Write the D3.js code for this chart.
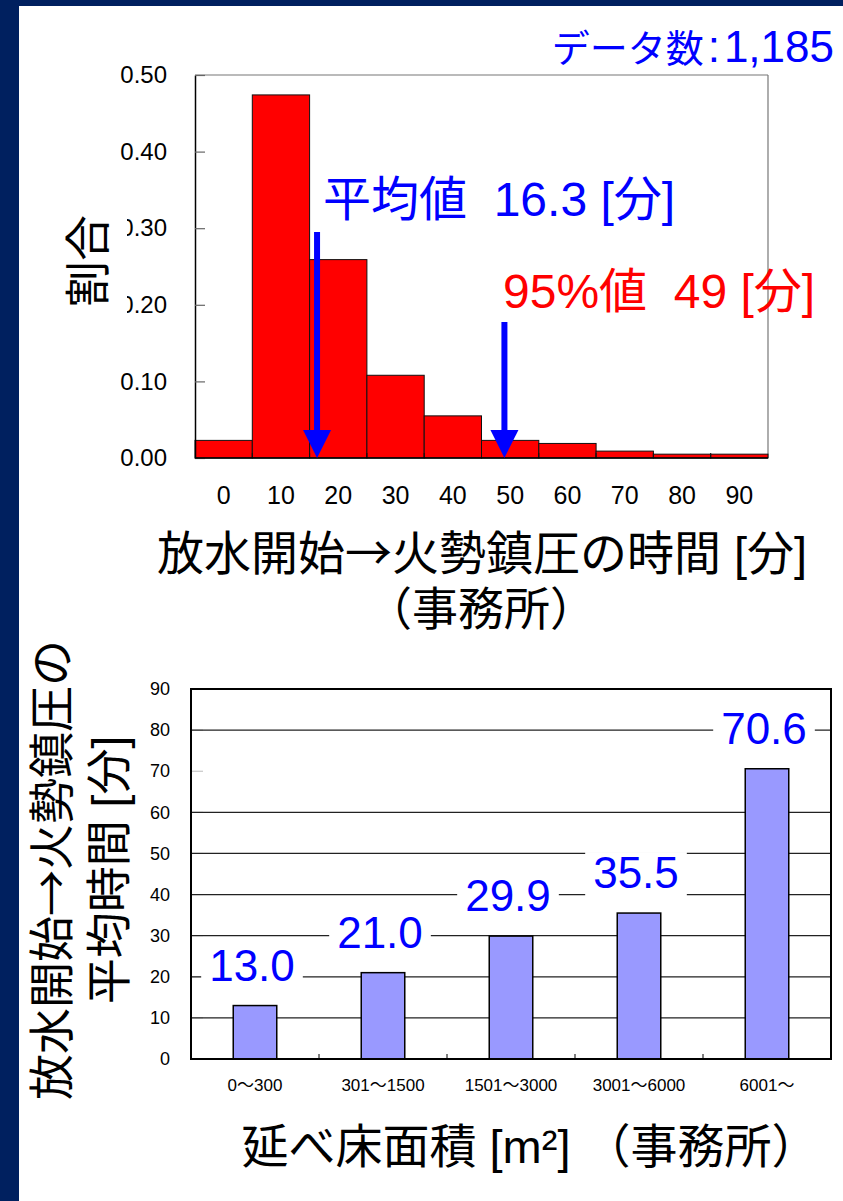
<!DOCTYPE html>
<html>
<head>
<meta charset="utf-8">
<script src="https://cdn.jsdelivr.net/npm/d3@7"></script>
<style>
  html, body { margin: 0; padding: 0; background: #fff; }
  svg { display: block; }
  text { font-family: "Liberation Sans", Arial, "Noto Sans CJK JP", sans-serif; }
</style>
</head>
<body>
<svg id="chart" width="843" height="1201"></svg>
<script>
// ---- Histogram: time from water discharge to fire suppression (offices) ----
const timeBinLabels = ["0", "10", "20", "30", "40", "50", "60", "70", "80", "90"];
const shareValues   = [0.023, 0.474, 0.259, 0.108, 0.055, 0.023, 0.019, 0.009, 0.005, 0.005];
const shareTicks    = [0, 0.1, 0.2, 0.3, 0.4, 0.5];
const meanMinutes   = 16.3;
const p95Minutes    = 49;
const dataCount     = "1,185";

// ---- Mean suppression time by total floor area (offices) ----
const floorAreaCategories = ["0～300", "301～1500", "1501～3000", "3001～6000", "6001～"];
const meanTimes           = [13.0, 21.0, 29.9, 35.5, 70.6];
const meanTimeTicks       = [0, 10, 20, 30, 40, 50, 60, 70, 80, 90];
const meanTimeGrid        = [10, 20, 30, 40, 50, 60, 80];

const svg = d3.select("#chart");
const W = 843, H = 1201;
const CJK = "'Noto Sans CJK JP', sans-serif";
const MIX = "'Liberation Sans', Arial, 'Noto Sans CJK JP', sans-serif";
const NARROW = "'Liberation Sans Narrow', 'Liberation Sans', Arial, sans-serif";

// text with a full-width CJK arrow between two runs
function arrowText(sel, before, after) {
  sel.append("tspan").text(before);
  sel.append("tspan").attr("font-family", CJK).text("→");
  sel.append("tspan").text(after);
  return sel;
}

// slide frame
svg.append("rect").attr("width", W).attr("height", H).attr("fill", "#00205F");
svg.append("rect").attr("x", 19).attr("y", 6).attr("width", W - 19).attr("height", H - 6).attr("fill", "#fff");

// ================= top histogram =================
const ht = { left: 195, right: 768, top: 75, bottom: 458 };
const xBin = d3.scaleBand().domain(timeBinLabels).range([ht.left, ht.right]).padding(0);
const xTime = d3.scaleLinear().domain([-5, 95]).range([ht.left, ht.right]);
const yShare = d3.scaleLinear().domain([0, 0.5]).range([ht.bottom, ht.top]);

const gHist = svg.append("g");

// frame top/right (grey)
gHist.append("line").attr("x1", ht.left).attr("x2", ht.right).attr("y1", ht.top).attr("y2", ht.top)
  .attr("stroke", "#777").attr("stroke-width", 1.2);
gHist.append("line").attr("x1", ht.right).attr("x2", ht.right).attr("y1", ht.top).attr("y2", ht.bottom)
  .attr("stroke", "#777").attr("stroke-width", 1.2);

// bars
gHist.append("g").selectAll("rect").data(shareValues).join("rect")
  .attr("x", (d, i) => xBin(timeBinLabels[i]))
  .attr("y", d => yShare(d))
  .attr("width", xBin.bandwidth())
  .attr("height", d => yShare(0) - yShare(d))
  .attr("fill", "#FF0000")
  .attr("stroke", "#111")
  .attr("stroke-width", 1);

// bin boundary ticks on bottom axis
gHist.append("g").selectAll("line").data(timeBinLabels.slice(1)).join("line")
  .attr("x1", d => xBin(d)).attr("x2", d => xBin(d))
  .attr("y1", ht.bottom).attr("y2", ht.bottom - 5)
  .attr("stroke", "#111").attr("stroke-width", 1);

// left axis
const yAxisTop = gHist.append("g").attr("transform", `translate(${ht.left},0)`)
  .call(d3.axisLeft(yShare).tickValues(shareTicks).tickFormat(d3.format(".2f"))
    .tickSizeInner(-10).tickSizeOuter(0).tickPadding(28));
yAxisTop.select(".domain").attr("stroke", "#000").attr("stroke-width", 1.5);
yAxisTop.selectAll(".tick line").attr("stroke", "#666").attr("stroke-width", 1.2);
yAxisTop.selectAll(".tick text").attr("font-family", MIX).attr("font-size", 24).attr("fill", "#000");

// bottom axis labels (bin centers)
const xAxisTop = gHist.append("g").attr("transform", `translate(0,${ht.bottom})`)
  .call(d3.axisBottom(xBin).tickSize(0).tickPadding(28));
xAxisTop.select(".domain").remove();
xAxisTop.selectAll(".tick text").attr("font-family", NARROW).attr("font-size", 25).attr("fill", "#000");
gHist.append("line").attr("x1", ht.left).attr("x2", ht.right).attr("y1", ht.bottom).attr("y2", ht.bottom)
  .attr("stroke", "#000").attr("stroke-width", 1.5);

// y title with white backing
gHist.append("rect").attr("x", 50).attr("y", 208).attr("width", 77).attr("height", 106).attr("fill", "#fff");
gHist.append("text").attr("transform", "translate(104,261) rotate(-90)")
  .attr("text-anchor", "middle").attr("font-family", CJK).attr("font-size", 46).attr("fill", "#000")
  .text("割合");

// x title
arrowText(gHist.append("text").attr("x", 482).attr("y", 570).attr("text-anchor", "middle")
  .attr("font-family", MIX).attr("font-size", 47).attr("fill", "#000"),
  "放水開始", "火勢鎮圧の時間 [分]");
gHist.append("text").attr("x", 481).attr("y", 625).attr("text-anchor", "middle")
  .attr("font-family", CJK).attr("font-size", 46).attr("fill", "#000")
  .text("（事務所）");

// data count
const countText = gHist.append("text").attr("x", 834).attr("y", 62).attr("text-anchor", "end")
  .attr("font-family", MIX).attr("fill", "#0000FF");
countText.append("tspan").attr("font-size", 38).text("データ数");
countText.append("tspan").attr("font-size", 44).attr("dx", 4).text(":");
countText.append("tspan").attr("font-size", 44).attr("dx", 4).text(dataCount);

// annotations: mean and 95th percentile with arrows
const markers = [
  { value: meanMinutes, label: "平均値  " + meanMinutes.toFixed(1) + " [分]", color: "#0000FF", tx: 323, ty: 216, shaftTop: 232 },
  { value: p95Minutes,  label: "95%値  " + p95Minutes + " [分]",               color: "#FF0000", tx: 503, ty: 308, shaftTop: 322 }
];
markers.forEach(m => {
  gHist.append("text").attr("x", m.tx).attr("y", m.ty)
    .style("white-space", "pre")
    .attr("font-family", MIX).attr("font-size", 48).attr("fill", m.color).text(m.label);
  const ax = xTime(m.value);
  gHist.append("rect").attr("x", ax - 3).attr("y", m.shaftTop).attr("width", 6).attr("height", 430 - m.shaftTop)
    .attr("fill", "#0000FF");
  gHist.append("path").attr("d", `M${ax - 14},430 L${ax + 14},430 L${ax},${ht.bottom} Z`).attr("fill", "#0000FF");
});

// ================= bottom bar chart =================
const bt = { left: 191, right: 831, top: 689, bottom: 1059 };
const xCat = d3.scaleBand().domain(floorAreaCategories).range([bt.left, bt.right]).padding(0);
const yTime = d3.scaleLinear().domain([0, 90]).range([bt.bottom, bt.top]);
const barW = xCat.bandwidth() * 0.34;

const gBar = svg.append("g");

// left ticks (grey, inward)
gBar.append("g").selectAll("line").data(meanTimeTicks).join("line")
  .attr("x1", bt.left).attr("x2", bt.left + 12)
  .attr("y1", d => yTime(d)).attr("y2", d => yTime(d))
  .attr("stroke", "#bbb").attr("stroke-width", 1);

// gridlines
gBar.append("g").selectAll("line").data(meanTimeGrid).join("line")
  .attr("x1", bt.left).attr("x2", bt.right)
  .attr("y1", d => yTime(d)).attr("y2", d => yTime(d))
  .attr("stroke", "#222").attr("stroke-width", 1.2);

// y tick labels
const yAxisBot = gBar.append("g").attr("transform", `translate(${bt.left},0)`)
  .call(d3.axisLeft(yTime).tickValues(meanTimeTicks).tickSize(0).tickPadding(21));
yAxisBot.select(".domain").remove();
yAxisBot.selectAll(".tick text").attr("font-family", MIX).attr("font-size", 18).attr("fill", "#000");

// value labels with white backing (interrupt gridlines)
const labels = gBar.append("g");
meanTimes.forEach((v, i) => {
  const cx = xCat(floorAreaCategories[i]) + xCat.bandwidth() / 2;
  const txt = labels.append("text").attr("x", cx - 3).attr("y", yTime(v) - 25)
    .attr("text-anchor", "middle").attr("font-family", MIX).attr("font-size", 44).attr("fill", "#0000FF")
    .text(v.toFixed(1));
  const bb = txt.node().getBBox();
  labels.insert("rect", "text").attr("x", bb.x - 8).attr("y", bb.y + 4).attr("width", bb.width + 16).attr("height", bb.height - 4)
    .attr("fill", "#fff");
});

// bars
gBar.append("g").selectAll("rect").data(meanTimes).join("rect")
  .attr("x", (d, i) => xCat(floorAreaCategories[i]) + xCat.bandwidth() / 2 - barW / 2)
  .attr("y", d => yTime(d))
  .attr("width", barW)
  .attr("height", d => yTime(0) - yTime(d))
  .attr("fill", "#9999FF").attr("stroke", "#000").attr("stroke-width", 1.5);

// category boundary ticks
gBar.append("g").selectAll("line").data(floorAreaCategories.slice(1)).join("line")
  .attr("x1", d => xCat(d)).attr("x2", d => xCat(d))
  .attr("y1", bt.bottom).attr("y2", bt.bottom - 5)
  .attr("stroke", "#000").attr("stroke-width", 1);

// plot frame
gBar.append("rect").attr("x", bt.left).attr("y", bt.top).attr("width", bt.right - bt.left).attr("height", bt.bottom - bt.top)
  .attr("fill", "none").attr("stroke", "#000").attr("stroke-width", 2);

// x category labels
const xAxisBot = gBar.append("g").attr("transform", `translate(0,${bt.bottom})`)
  .call(d3.axisBottom(xCat).tickSize(0).tickPadding(20));
xAxisBot.select(".domain").remove();
xAxisBot.selectAll(".tick text").attr("font-family", MIX).attr("font-size", 17).attr("fill", "#000");

// y title (two lines)
arrowText(gBar.append("text").attr("transform", "translate(68,870) rotate(-90)")
  .attr("text-anchor", "middle").attr("font-family", MIX).attr("font-size", 46).attr("fill", "#000"),
  "放水開始", "火勢鎮圧の");
gBar.append("text").attr("transform", "translate(125,870) rotate(-90)")
  .attr("text-anchor", "middle").attr("font-family", MIX).attr("font-size", 46).attr("fill", "#000")
  .text("平均時間 [分]");

// x title
gBar.append("text").attr("x", 530).attr("y", 1163).attr("text-anchor", "middle")
  .attr("font-family", MIX).attr("font-size", 47).attr("fill", "#000")
  .text("延べ床面積 [m²] （事務所）");
</script>
</body>
</html>
